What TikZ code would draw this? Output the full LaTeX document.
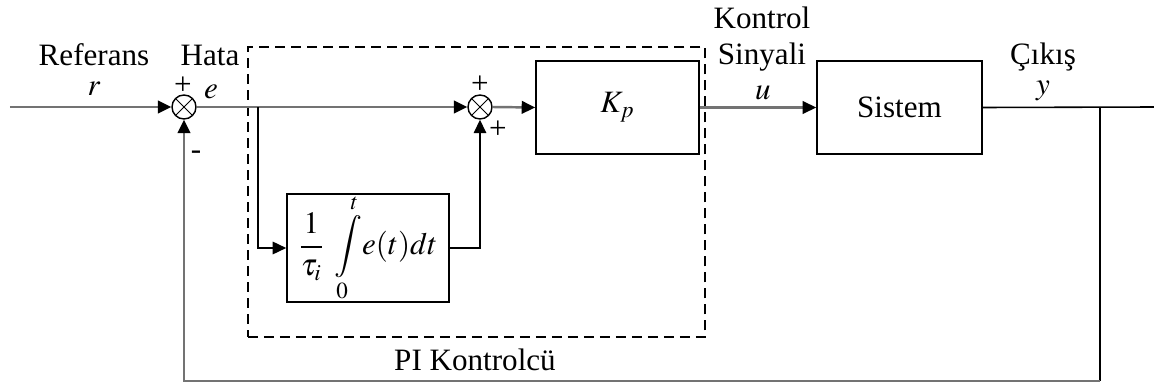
\documentclass[tikz,border=0pt]{standalone}
\usepackage{amsmath}
\usepackage{mathptmx}
\usepackage[no-math]{fontspec}
\setmainfont{Liberation Serif}
\usetikzlibrary{arrows.meta,positioning}

\begin{document}
\begin{tikzpicture}[font=\fontsize{17.7}{20}\selectfont,
  blk/.style={draw,line width=0.9pt,minimum width=3.26cm,minimum height=1.86cm,inner sep=0},
  summ/.style={draw,circle,line width=0.8pt,minimum size=0.48cm,inner sep=0,
    path picture={\draw[line width=0.6pt]
      (path picture bounding box.south west)--(path picture bounding box.north east)
      (path picture bounding box.north west)--(path picture bounding box.south east);}},
  sig/.style={draw=black!55,line width=1.4pt},
  wire/.style={draw,line width=0.9pt},
  tip/.style={-{Triangle[length=0.27cm,width=0.25cm,color=black]}},
  pibox/.style={draw,line width=0.85pt,dash pattern=on 5.7pt off 3.4pt,
    minimum width=9.14cm,minimum height=5.8cm,inner sep=0},
  sgn/.style={inner sep=0}]

\useasboundingbox (0,0) rectangle (23.08,7.7);

% ---- blocks
\node[pibox] (pi) at (9.53,3.86) {};
\node[summ] (s1) at (3.68,5.56) {};
\node[summ] (s2) at (9.6,5.56) {};
\node[blk] (kp) at (12.35,5.55) {$K_p$};
\node[blk,minimum width=3.3cm] (sys) at (17.99,5.55) {Sistem};
\node[blk,minimum width=3.24cm,minimum height=1.88cm] (int) at (7.36,2.74)
  {$\dfrac{1}{\tau_i}\;\displaystyle\int\limits_0^t\! e(t)dt$};

% ---- helper points
\coordinate (in)  at (0.2,5.56);
\coordinate (br1) at (5.16,5.56);
\coordinate (br2) at (22.0,5.56);
\coordinate (out) at (23.08,5.56);
\coordinate (fb)  at (22.0,0.08);

% ---- signals
\draw[sig,tip] (in) -- (s1.west);
\draw[sig,tip] (s1.east) -- (s2.west);
\draw[wire,tip] (br1) |- (int.west);
\draw[wire,tip] (int.east) -| (s2.south);
\draw[sig,tip] (s2.east) -- (kp.west);
\draw[sig,tip] (kp.east) -- (sys.west);
\draw[wire] (sys.east) -- (out);
\draw[wire] (br2) -- (fb);
\draw[sig,tip] (fb) -| (s1.south);

% ---- labels
\node (ref) at (1.88,6.6) {Referans};
\node (rlbl) at (1.88,5.92) {$r$};
\node (hata) at (4.2,6.6) {Hata};
\node (elbl) at (4.22,5.86) {$e$};
\node[sgn] (p1) at (3.66,5.98) {+};
\node[sgn] (m1) at (3.92,4.6) {-};
\node[sgn] (p2) at (9.6,6.0) {+};
\node[sgn] (p3) at (9.96,5.1) {+};
\node (kon) at (15.24,7.34) {Kontrol};
\node (sin) at (15.24,6.56) {Sinyali};
\node (ulbl) at (15.26,5.84) {$u$};
\node (cik) at (20.86,6.56) {Çıkış};
\node (ylbl) at (20.86,5.88) {$y$};
\node (pil) at (9.5,0.5) {PI Kontrolcü};
\end{tikzpicture}
\end{document}
